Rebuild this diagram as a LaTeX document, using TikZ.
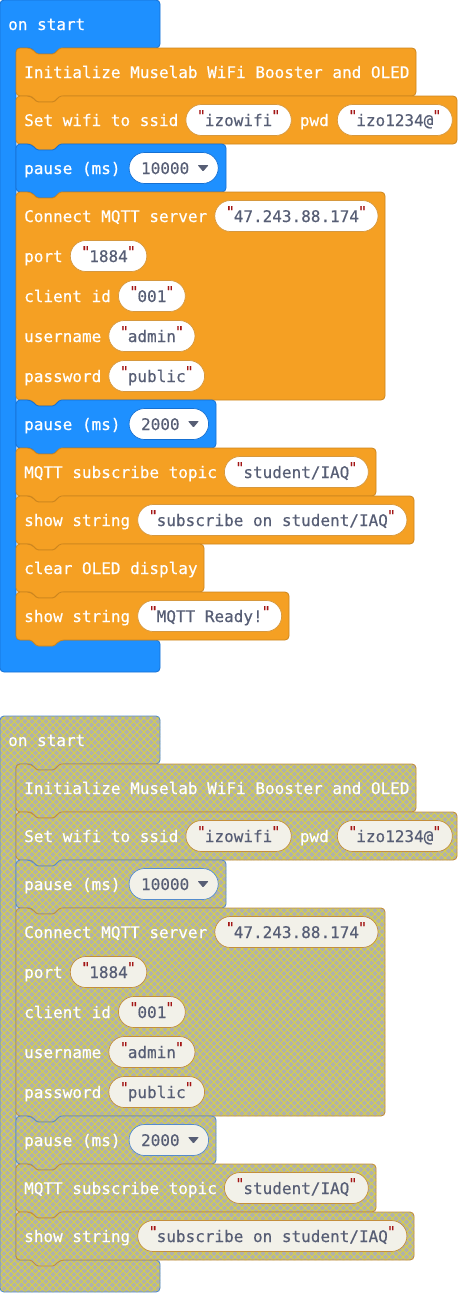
\documentclass[tikz,border=0pt]{standalone}
\usepackage{fontspec}
\newfontfamily\blockfont[FakeBold=0.4]{DejaVu Sans Mono}
\definecolor{blkorange}{RGB}{245,160,35}
\definecolor{blkorangeb}{RGB}{204,133,30}
\definecolor{pillob}{RGB}{214,152,62}
\definecolor{blkblue}{RGB}{30,144,255}
\definecolor{blkblueb}{RGB}{22,112,210}
\definecolor{fieldtext}{RGB}{87,94,117}
\definecolor{qred}{RGB}{163,21,21}
\definecolor{dgray}{RGB}{176,176,174}
\definecolor{dyellow}{RGB}{214,208,72}
\definecolor{doborder}{RGB}{196,142,60}
\definecolor{dbborder}{RGB}{84,140,205}
\definecolor{dfield}{RGB}{242,241,233}
\newif\ifgreyed
\newcommand\qmark{\makebox[7pt]{\raisebox{5pt}{\textcolor{qred}{\fontsize{15}{15}\selectfont"}}}}
% hat block (C shape): #1 = top of bottom bar
\newcommand\hatpath[1]{(0,10) [rounded corners=4pt] -- (0,0) -- (160,0) -- (160,48) -- (60,48) [rounded corners=1.5pt] -- (54,54) -- (37,54) -- (31,48) [rounded corners=4pt] -- (16,48) -- (16,#1) -- (160,#1) -- (160,#1+32) -- (0,#1+32) -- cycle}
% statement block: #1 top, #2 right, #3 bottom
\newcommand\stmtpath[3]{(16,#1+10) [rounded corners=4pt] -- (16,#1) -- (31,#1) [rounded corners=1.5pt] -- (37,#1+6) -- (54,#1+6) -- (60,#1) [rounded corners=4pt] -- (#2,#1) -- (#2,#3) -- (60,#3) [rounded corners=1.5pt] -- (54,#3+6) -- (37,#3+6) -- (31,#3) [rounded corners=4pt] -- (16,#3) -- cycle}
% hatch lines for disabled blocks
\newcommand\hatchlines{\draw[dyellow, line width=0.95pt] foreach \c in {-581,-574,...,460} {(\c,-2) -- ++(582,582) (\c+582,-2) -- ++(-582,582)};}
\newcommand\greyshape[2]{%
  \begin{scope}\clip #1; \fill[dgray] (-2,-2) rectangle (460,580); \hatchlines\end{scope}
  \draw[#2, line width=0.9pt] #1;}
\newcommand\oblock[3]{\ifgreyed\greyshape{\stmtpath{#1}{#2}{#3}}{doborder}\else\path[oblk] \stmtpath{#1}{#2}{#3};\fi}
\newcommand\bblock[3]{\ifgreyed\greyshape{\stmtpath{#1}{#2}{#3}}{dbborder}\else\path[bblk] \stmtpath{#1}{#2}{#3};\fi}
\newcommand\hatblock[1]{\ifgreyed\greyshape{\hatpath{#1}}{dbborder}\else\path[bblk] \hatpath{#1};\fi}
\newcommand\commonblocks[1]{%
  \oblock{48}{416}{96}
  \node[lbl] (#1init) at (24,78) {Initialize Muselab WiFi Booster and OLED};
  \oblock{96}{457}{144}
  \node[lbl] (#1wl) at (24,126) {Set wifi to ssid};
  \node[ofield] (#1wf) at ([xshift=7pt]#1wl.base east) {\qmark izowifi\qmark};
  \node[lbl] (#1pl) at ([xshift=8pt]#1wf.base east) {pwd};
  \node[ofield] (#1pf) at ([xshift=8pt]#1pl.base east) {\qmark izo1234@\qmark};
  \bblock{144}{226}{192}
  \node[lbl] (#1pal) at (24,174) {pause (ms)};
  \node[bdrop] (#1paf) at ([xshift=8pt]#1pal.base east) {10000\kern17pt};
  \fill[fieldtext, rounded corners=0.8pt] (#1paf.east) ++(-21,-3) -- ++(11,0) -- ++(-5.5,6.5) -- cycle;
  \oblock{192}{385}{400}
  \node[lbl] (#1cl) at (24,222) {Connect MQTT server};
  \node[ofield] (#1cf) at ([xshift=7pt]#1cl.base east) {\qmark 47.243.88.174\qmark};
  \node[lbl] (#1ptl) at (24,262) {port};
  \node[ofield] (#1ptf) at ([xshift=7pt]#1ptl.base east) {\qmark 1884\qmark};
  \node[lbl] (#1idl) at (24,302) {client id};
  \node[ofield] (#1idf) at ([xshift=7pt]#1idl.base east) {\qmark 001\qmark};
  \node[lbl] (#1ul) at (24,342) {username};
  \node[ofield] (#1uf) at ([xshift=7pt]#1ul.base east) {\qmark admin\qmark};
  \node[lbl] (#1pwl) at (24,382) {password};
  \node[ofield] (#1pwf) at ([xshift=7pt]#1pwl.base east) {\qmark public\qmark};
  \bblock{400}{216}{448}
  \node[lbl] (#1pbl) at (24,430) {pause (ms)};
  \node[bdrop] (#1pbf) at ([xshift=8pt]#1pbl.base east) {2000\kern17pt};
  \fill[fieldtext, rounded corners=0.8pt] (#1pbf.east) ++(-21,-3) -- ++(11,0) -- ++(-5.5,6.5) -- cycle;
  \oblock{448}{376}{496}
  \node[lbl] (#1sl) at (24,478) {MQTT subscribe topic};
  \node[ofield] (#1sf) at ([xshift=7pt]#1sl.base east) {\qmark student/IAQ\qmark};
  \oblock{496}{414}{544}
  \node[lbl] (#1ssl) at (24,526) {show string};
  \node[ofield] (#1ssf) at ([xshift=7pt]#1ssl.base east) {\qmark subscribe on student/IAQ\qmark};
}
\tikzset{
  lbl/.style={anchor=base west, inner sep=0pt, text=white, font=\blockfont\fontsize{16}{16}\selectfont},
  fieldbase/.style={anchor=base west, inner xsep=12pt, inner ysep=0pt, text height=14pt, text depth=2pt,
    minimum height=31pt, rounded corners=15.5pt, line width=0.7pt, text=fieldtext,
    font=\blockfont\fontsize{16}{16}\selectfont},
  ofield/.style={fieldbase, fill=white, draw=pillob},
  bdrop/.style={fieldbase, fill=white, draw=blkblueb},
  oblk/.style={fill=blkorange, draw=blkorangeb, line width=0.8pt},
  bblk/.style={fill=blkblue, draw=blkblueb, line width=0.8pt}
}
\begin{document}
\begin{tikzpicture}[x=1pt, y=-1pt]
\useasboundingbox (0,0) rectangle (458,1293);
% ---- active stack ----
\greyedfalse
\hatblock{640}
\node[lbl] (aonstart) at (8,30) {on start};
\commonblocks{a}
\oblock{544}{204}{592}
\node[lbl] (aclr) at (24,574) {clear OLED display};
\oblock{592}{289}{640}
\node[lbl] (ardl) at (24,622) {show string};
\node[ofield] (ardf) at ([xshift=7pt]ardl.base east) {\qmark MQTT Ready!\qmark};
% ---- disabled stack ----
\begin{scope}[shift={(0,716)},
  ofield/.style={fieldbase, fill=dfield, draw=doborder},
  bdrop/.style={fieldbase, fill=dfield, draw=dbborder}]
\greyedtrue
\hatblock{544}
\node[lbl] (donstart) at (8,30) {on start};
\commonblocks{d}
\end{scope}
\end{tikzpicture}
\end{document}
